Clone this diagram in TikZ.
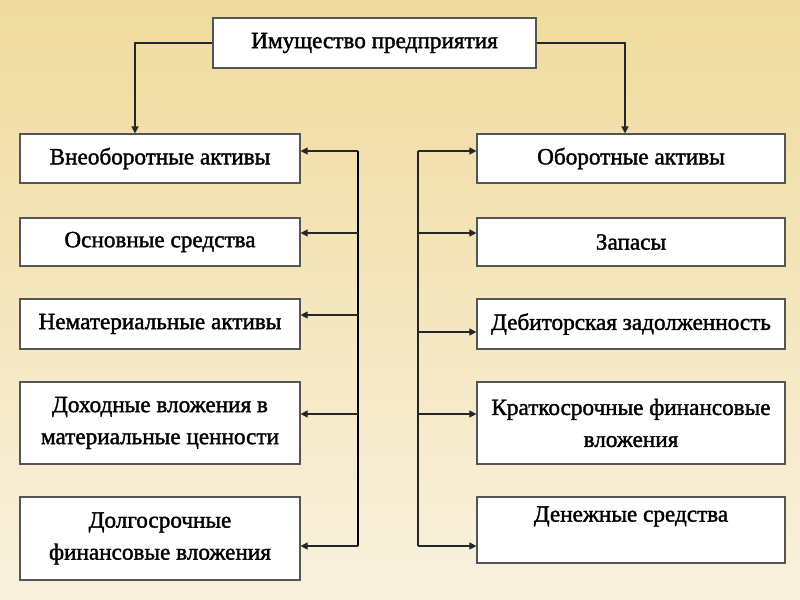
\documentclass[tikz,border=0pt]{standalone}
\usepackage{fontspec}
\setmainfont{Liberation Serif}
\newfontfamily\caixafont{Liberation Serif}[FakeBold=1.6]
\usepackage{tikz}
\usetikzlibrary{arrows.meta}
\definecolor{fondtop}{RGB}{239,219,157}
\definecolor{fondbot}{RGB}{249,241,222}
\definecolor{borda}{RGB}{85,85,85}
\tikzset{
    caixa/.style={draw=borda, line width=0.6pt, fill=white, align=center, inner sep=2pt,
        font=\caixafont\fontsize{11.6}{16}\selectfont},
    caixaL/.style={caixa, minimum width=140pt},
    caixaR/.style={caixa, minimum width=154pt},
    barra/.style={line width=0.8pt, black},
    ramo/.style={line width=0.55pt, black!85, -{Triangle[length=3.5pt,width=3.5pt]}}
}

\begin{document}
\begin{tikzpicture}[x=0.5pt, y=-0.5pt]
    \shade[top color=fondtop, bottom color=fondbot] (0,0) rectangle (800,600);
    \useasboundingbox (0,0) rectangle (800,600);

    \node[caixa, minimum width=161.5pt, minimum height=25pt] (topo) at (374.5,43) {Имущество предприятия};

    \node[caixaL, minimum height=24.5pt] (L1) at (160,158.5) {Внеоборотные активы};
    \node[caixaL, minimum height=24pt] (L2) at (160,242) {Основные средства};
    \node[caixaL, minimum height=25pt] (L3) at (160,324) {Нематериальные активы};
    \node[caixaL, minimum height=41pt] (L4) at (160,423) {Доходные вложения в\\материальные ценности};
    \node[caixaL, minimum height=41.5pt] (L5) at (160,538.5) {Долгосрочные\\финансовые вложения};

    \node[caixaR, minimum height=24.5pt] (R1) at (631,158.5) {Оборотные активы};
    \node[caixaR, minimum height=24pt] (R2) at (631,242) {Запасы};
    \node[caixaR, minimum height=25pt] (R3) at (631,324) {Дебиторская задолженность};
    \node[caixaR, minimum height=41pt] (R4) at (631,423) {Краткосрочные финансовые\\вложения};
    \node[caixaR, minimum height=33pt] (R5) at (631,530) {Денежные средства\\\mbox{}};

    \draw[ramo, line width=0.7pt] (topo.west) -| (L1.north -| 135,0);
    \draw[ramo, line width=0.7pt] (topo.east) -| (R1.north -| 625,0);

    \coordinate (bl1) at (358,151);
    \coordinate (bl2) at (358,233);
    \coordinate (bl3) at (358,315);
    \coordinate (bl4) at (358,414);
    \coordinate (bl5) at (358,546);
    \coordinate (br1) at (418,151);
    \coordinate (br2) at (418,233);
    \coordinate (br3) at (418,332);
    \coordinate (br4) at (418,414);
    \coordinate (br5) at (418,546);

    \draw[barra] (bl1) -- (bl5);
    \draw[barra, line width=0.6pt, black!85] (br1) -- (br5);
    \foreach \i in {1,...,5} {
        \draw[ramo] (bl\i) -- (bl\i -| L\i.east);
        \draw[ramo] (br\i) -- (br\i -| R\i.west);
    }
\end{tikzpicture}
\end{document}
